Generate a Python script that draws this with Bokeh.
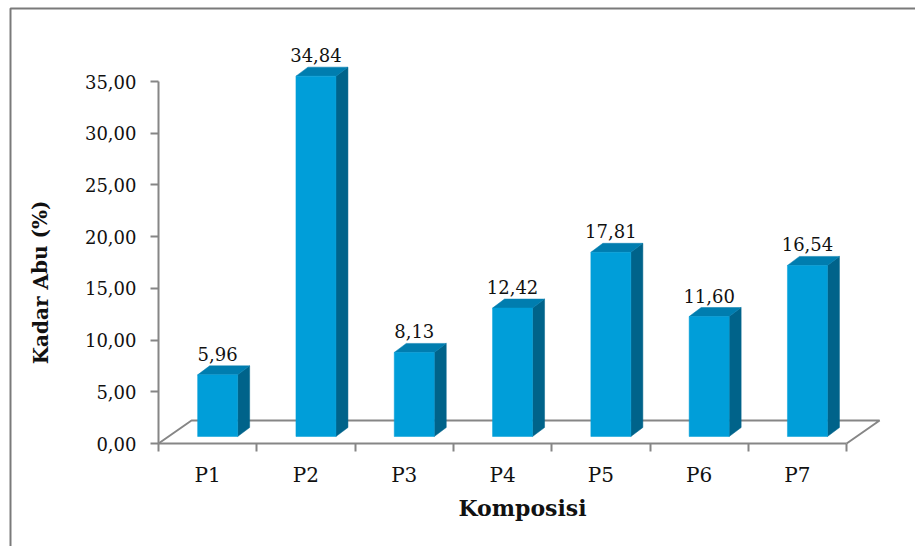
from bokeh.plotting import figure
from bokeh.models import ColumnDataSource, FixedTicker, Range1d, Label, LinearAxis
from bokeh.core.properties import value
from bokeh.embed import file_html
from bokeh.resources import INLINE

# --- data -------------------------------------------------------------
categories = ["P1", "P2", "P3", "P4", "P5", "P6", "P7"]
kadar_abu = [5.96, 34.84, 8.13, 12.42, 17.81, 11.60, 16.54]
value_labels = ["5,96", "34,84", "8,13", "12,42", "17,81", "11,60", "16,54"]
y_ticks = [0, 5, 10, 15, 20, 25, 30, 35]
y_tick_labels = ["0,00", "5,00", "10,00", "15,00", "20,00", "25,00", "30,00", "35,00"]

# --- layout (pixels) --------------------------------------------------
WIDTH, HEIGHT = 915, 546
ORIGIN_X, ORIGIN_Y = 158, 443      # where category 0 / value 0 sit on the page
CAT_PX = 98.3                      # pixels per category slot
VAL_PX = 362 / 35                  # pixels per percent
n = len(categories)

SERIF = "DejaVu Serif"
GREY = "#868686"
INK = "#111111"
FRONT, TOP, SIDE = "#009ED9", "#007DAF", "#00638A"


def px_to_x(px):
    return (px - ORIGIN_X) / CAT_PX


def px_to_y(py):
    return (ORIGIN_Y - py) / VAL_PX


# 3-D depth offsets, expressed in data units
floor_dx, floor_dy = 33 / CAT_PX, 23 / VAL_PX      # full floor depth
front_dx, front_dy = 10 / CAT_PX, 7 / VAL_PX       # bar front plane
bar_dx, bar_dy = 12 / CAT_PX, 9 / VAL_PX           # bar depth
bar_w = 40 / CAT_PX

# the plotting frame covers the whole page; axes sit at the data origin
p = figure(width=WIDTH, height=HEIGHT, output_backend="svg", toolbar_location=None,
           x_range=Range1d(px_to_x(0), px_to_x(WIDTH)),
           y_range=Range1d(px_to_y(HEIGHT), px_to_y(0)),
           x_axis_location=None, y_axis_location=None,
           min_border=0)
p.outline_line_color = None
p.grid.visible = False
p.background_fill_color = "white"
p.border_fill_color = "white"

# chart-area border (top and left edges)
p.line([px_to_x(10), px_to_x(10), px_to_x(WIDTH + 5)],
       [px_to_y(HEIGHT + 5), px_to_y(8), px_to_y(8)],
       line_color="#7a7a7a", line_width=2)

# floor of the 3-D chart
p.line([0, floor_dx, n + floor_dx, n], [0, floor_dy, floor_dy, 0],
       line_color=GREY, line_width=2)

# bars: front face, side face, top face
xl = [i + 0.5 - bar_w / 2 + front_dx for i in range(n)]
xr = [x + bar_w for x in xl]
yb = [front_dy] * n
yt = [front_dy + v for v in kadar_abu]

side_xs = [[r, r + bar_dx, r + bar_dx, r] for r in xr]
side_ys = [[b, b + bar_dy, t + bar_dy, t] for b, t in zip(yb, yt)]
top_xs = [[l, r, r + bar_dx, l + bar_dx] for l, r in zip(xl, xr)]
top_ys = [[t, t, t + bar_dy, t + bar_dy] for t in yt]

p.patches(side_xs, side_ys, fill_color=SIDE, line_color=SIDE, line_width=0.5)
p.patches(top_xs, top_ys, fill_color=TOP, line_color=TOP, line_width=0.5)
p.quad(left=xl, right=xr, bottom=yb, top=yt, fill_color=FRONT, line_color=FRONT, line_width=0.5)

# value labels above each bar
src = ColumnDataSource(dict(x=[(l + r) / 2 for l, r in zip(xl, xr)],
                            y=[t + bar_dy for t in yt], txt=value_labels))
p.text(x="x", y="y", text="txt", source=src, y_offset=-12,
       text_align="center", text_baseline="alphabetic",
       text_font=value(SERIF), text_font_size="18px", text_color=INK)

# value axis
ya = LinearAxis(fixed_location=0)
ya.ticker = FixedTicker(ticks=y_ticks)
ya.major_label_overrides = {t: s for t, s in zip(y_ticks, y_tick_labels)}
ya.bounds = (0, 35)
ya.axis_line_color = GREY
ya.axis_line_width = 2
ya.major_tick_line_color = GREY
ya.major_tick_line_width = 2
ya.major_tick_out = 8
ya.major_tick_in = 0
ya.minor_tick_line_color = None
ya.major_label_standoff = 14
ya.major_label_text_font = SERIF
ya.major_label_text_font_size = "18px"
ya.major_label_text_color = INK
p.add_layout(ya, "left")

# category axis: labels at slot centres, tick marks at slot edges
centres = [i + 0.5 for i in range(n)]
xa = LinearAxis(fixed_location=0)
xa.ticker = FixedTicker(ticks=centres, minor_ticks=list(range(n + 1)))
xa.major_label_overrides = {c: s for c, s in zip(centres, categories)}
xa.bounds = (0, n)
xa.axis_line_color = GREY
xa.axis_line_width = 2
xa.major_tick_line_color = None
xa.major_tick_out = 0
xa.major_tick_in = 0
xa.minor_tick_line_color = GREY
xa.minor_tick_line_width = 2
xa.minor_tick_out = 8
xa.minor_tick_in = 0
xa.major_label_standoff = 11
xa.major_label_text_font = SERIF
xa.major_label_text_font_size = "20px"
xa.major_label_text_color = INK
p.add_layout(xa, "below")

# axis titles
p.add_layout(Label(x=px_to_x(40), y=px_to_y(282), text="Kadar Abu (%)", angle=1.5708,
                   text_align="center", text_baseline="middle",
                   text_font=SERIF, text_font_style="bold", text_font_size="20px",
                   text_color=INK))
p.add_layout(Label(x=px_to_x(522), y=px_to_y(507), text="Komposisi",
                   text_align="center", text_baseline="middle",
                   text_font=SERIF, text_font_style="bold", text_font_size="22px",
                   text_color=INK))

open("out.html", "w").write(file_html(p, INLINE))
